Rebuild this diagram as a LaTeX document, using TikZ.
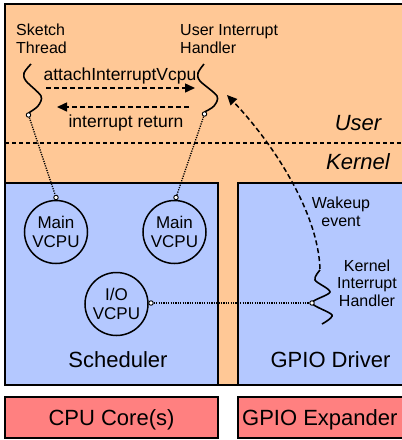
\documentclass[tikz,border=0pt]{standalone}
\usepackage{fontspec}
\setmainfont{Liberation Sans}
\usetikzlibrary{arrows.meta}
\definecolor{userorange}{RGB}{255,200,150}
\definecolor{kblue}{RGB}{180,200,255}
\definecolor{hwred}{RGB}{255,128,128}
\begin{document}
\begin{tikzpicture}[x=1pt,y=-1pt,
  layerbox/.style={draw=black, line width=1.6pt},
  lbl/.style={font=\fontsize{16}{17.7}\selectfont, inner sep=0pt},
  biglbl/.style={font=\fontsize{22}{24}\selectfont, inner sep=0pt},
  msglbl/.style={font=\fontsize{17.5}{19}\selectfont, inner sep=0pt},
  vcpu/.style={circle, draw, line width=1.5pt, minimum size=63pt, inner sep=0pt, align=center, font=\fontsize{17}{19}\selectfont},
  port/.style={circle, draw, fill=white, minimum size=4.5pt, inner sep=0pt, line width=0.9pt},
  flow/.style={dash pattern=on 5pt off 3pt, line width=1.5pt, -{Triangle[length=10pt,width=9pt]}},
  link/.style={dash pattern=on 1.2pt off 1.2pt, line width=1.3pt},
  thread/.style={line width=1.6pt}]
\useasboundingbox (0,0) rectangle (402,440);
\clip (0,0) rectangle (402,440);
% layers
\filldraw[fill=userorange, draw=black, line width=1.2pt] (5,4) rectangle (410,385);
\draw[dash pattern=on 4pt off 3pt, line width=1.4pt] (5,143) -- (410,143);
\filldraw[fill=kblue, layerbox] (5,183) rectangle (218,385);
\filldraw[fill=kblue, layerbox] (238,183) rectangle (410,385);
\filldraw[fill=hwred, layerbox] (5,397) rectangle (218,438);
\filldraw[fill=hwred, layerbox] (238,397) rectangle (410,438);
% layer labels
\node[biglbl, font=\fontsize{22}{24}\selectfont\itshape, anchor=base] (user) at (358,130) {User};
\node[biglbl, font=\fontsize{22}{24}\selectfont\itshape, anchor=base] (kernel) at (358,169) {Kernel};
\node[biglbl, anchor=base] (sched) at (118,367.5) {Scheduler};
\node[biglbl, anchor=base] (gpiod) at (330.5,367.5) {GPIO Driver};
\node[biglbl, anchor=base] (cpu) at (111.5,425.5) {CPU Core(s)};
\node[biglbl, anchor=base west] (gpioe) at (242,425.5) {GPIO Expander};
% thread labels (base = baseline of last line)
\node[lbl, align=left, anchor=base west] (sketch) at (16,53) {Sketch\\Thread};
\node[lbl, align=left, anchor=base west] (uih) at (180,53) {User Interrupt\\Handler};
\node[lbl, align=center, anchor=base] (wake) at (341,226) {Wakeup\\event};
\node[lbl, align=center, anchor=base] (kih) at (367,306.5) {Kernel\\Interrupt\\Handler};
% vcpus
\node[vcpu] (m1) at (56,232) {Main\\VCPU};
\node[vcpu] (m2) at (174.5,232) {Main\\VCPU};
\node[vcpu] (io) at (116.5,304) {I/O\\VCPU};
% threads (squiggles)
\draw[thread] plot[smooth] coordinates {(31,64) (24,73) (26,81) (41,96) (38,106) (28.5,113)};
\draw[thread] plot[smooth] coordinates {(204,64) (198,73) (200,81) (217,96) (214,106) (204.5,112)};
\draw[thread] plot[smooth] coordinates {(320,270) (315,280) (330,292) (312,303) (332,315) (322,324)};
% messages
\coordinate (a1s) at (46,88);
\coordinate (a1e) at (195,88);
\coordinate (a2s) at (189,107);
\coordinate (a2e) at (57,107);
\draw[flow] (a1s) -- (a1e);
\draw[flow] (a2s) -- (a2e);
\node[msglbl, anchor=base] (attach) at (120,80) {attachInterruptVcpu};
\node[msglbl, anchor=base] (iret) at (126,127.5) {interrupt return};
\coordinate (ktop) at (320,269);
\coordinate (wtip) at (227,95);
\draw[flow] (ktop) .. controls (318,210) and (270,140) .. (wtip);
% ports
\node[port] (skp) at (28.5,115) {};
\node[port] (uhp) at (204.5,114) {};
\node[port] (m1p) at (56,197.5) {};
\node[port] (m2p) at (176,197.5) {};
\node[port] (iop) at (151,303) {};
\node[port] (kp) at (312,303) {};
% links
\draw[link] (skp) -- (m1p);
\draw[link] (uhp) -- (m2p);
\draw[link] (iop) -- (kp);
\end{tikzpicture}
\end{document}
